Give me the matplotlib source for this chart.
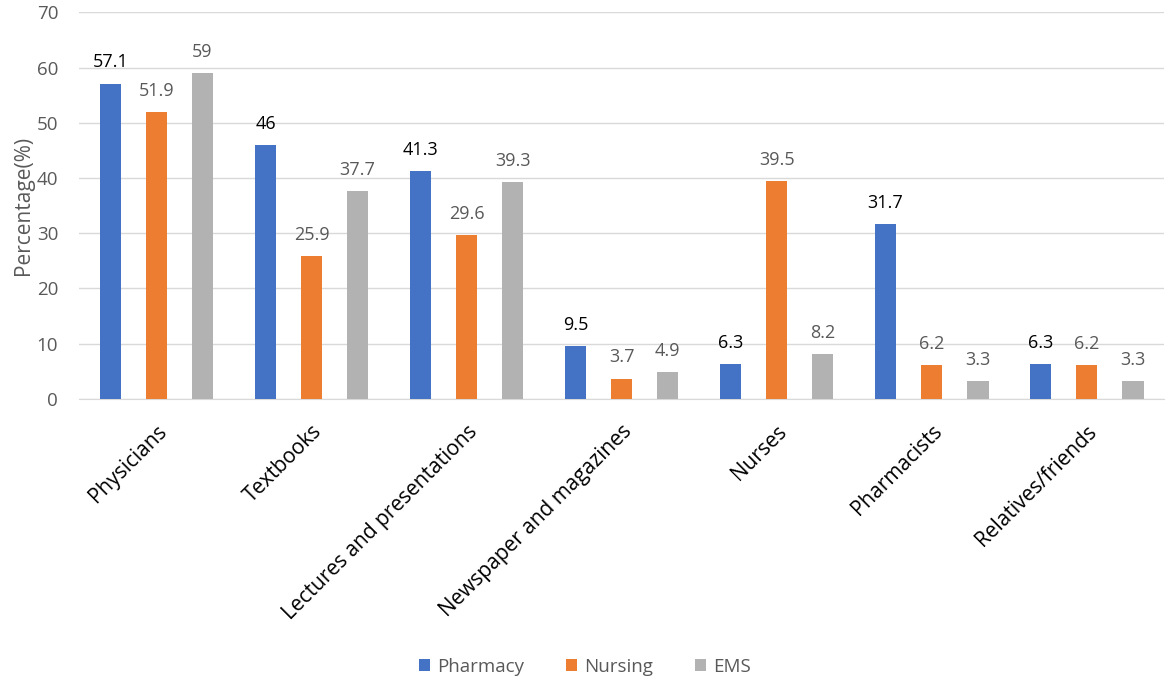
import numpy as np
import matplotlib.pyplot as plt

plt.rcParams['font.family'] = ['Open Sans', 'DejaVu Sans']

categories = ['Physicians', 'Textbooks', 'Lectures and presentations',
              'Newspaper and magazines', 'Nurses', 'Pharmacists', 'Relatives/friends']
pharmacy = [57.1, 46, 41.3, 9.5, 6.3, 31.7, 6.3]
nursing = [51.9, 25.9, 29.6, 3.7, 39.5, 6.2, 6.2]
ems = [59, 37.7, 39.3, 4.9, 8.2, 3.3, 3.3]

series = [('Pharmacy', pharmacy, '#4472C4', 'black'),
          ('Nursing', nursing, '#ED7D31', '#595959'),
          ('EMS', ems, '#B2B2B2', '#595959')]

fig = plt.figure(figsize=(11.7, 6.82), dpi=100)
ax = fig.add_axes([0.0675, 0.415, 0.9275, 0.567])

x = np.arange(len(categories))
width = 0.14
step = 0.297
for i, (name, vals, color, lc) in enumerate(series):
    pos = x + (i - 1) * step
    bars = ax.bar(pos, vals, width, color=color, label=name, zorder=3)
    for b, v in zip(bars, vals):
        ax.text(b.get_x() + b.get_width() / 2, v + 2.2, f'{v:g}',
                ha='center', va='bottom', fontsize=13, color=lc)

ax.set_xlim(-0.5, len(categories) - 0.5)
ax.set_ylim(0, 70)
ax.set_yticks(range(0, 71, 10))
ax.yaxis.grid(True, color='#D9D9D9', linewidth=1, zorder=0)
for s in ['top', 'right', 'left']:
    ax.spines[s].set_visible(False)
ax.spines['bottom'].set_color('#D9D9D9')
ax.tick_params(axis='y', length=0, labelsize=13.5, labelcolor='#595959', pad=15)
ax.tick_params(axis='x', length=0, labelsize=15, pad=16)
ax.set_xticks(x)
ax.set_xticklabels(categories, rotation=45, ha='right', rotation_mode='anchor')
ax.set_ylabel('Percentage(%)', fontsize=15, color='#595959', labelpad=2)

fig.legend(loc='center', bbox_to_anchor=(0.5, 0.022), ncol=3,
           frameon=False, fontsize=13.5, handlelength=0.6, handleheight=0.6,
           columnspacing=2.2, handletextpad=0.4, labelcolor='#595959')

fig.savefig('out.png', dpi=100)
